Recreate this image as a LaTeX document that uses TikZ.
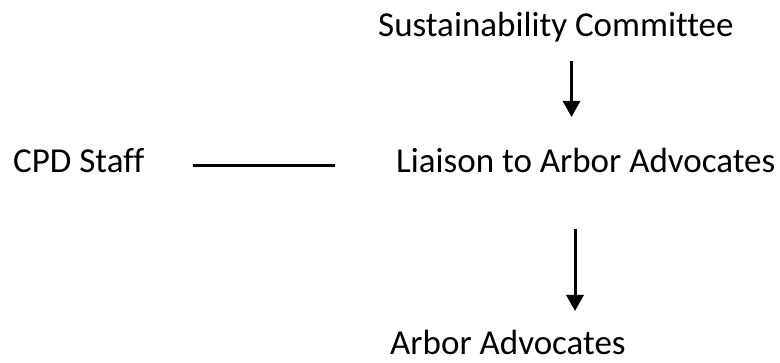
\documentclass[tikz,border=0pt]{standalone}
\usepackage{fontspec}
\setmainfont[Ligatures={NoCommon}]{Carlito}
\usetikzlibrary{arrows.meta}
\tikzset{
  lbl/.style={anchor=base west, inner sep=0pt, font=\fontsize{35}{40}\selectfont},
  arr/.style={line width=3pt, -{Triangle[length=16pt,width=17pt]}}
}
\begin{document}
\begin{tikzpicture}[x=1pt,y=1pt]
\useasboundingbox (0,0) rectangle (780,363);
\node[lbl] (sc) at (378,326) {Sustainability Committee};
\node[lbl] (cpd) at (13,190) {CPD Staff};
\node[lbl] (liaison) at (396,190) {Liaison to Arbor Advocates};
\node[lbl] (aa) at (390,8) {Arbor Advocates};

\coordinate (top1) at (571.5,302);
\coordinate (tip1) at (571.5,246);
\coordinate (top2) at (575,134);
\coordinate (tip2) at (575,52);
\coordinate (ls) at (193,197);
\coordinate (le) at (335,197);

\draw[arr] (top1) -- (tip1);
\draw[arr] (top2) -- (tip2);
\draw[line width=3pt] (ls) -- (le);
\end{tikzpicture}
\end{document}
